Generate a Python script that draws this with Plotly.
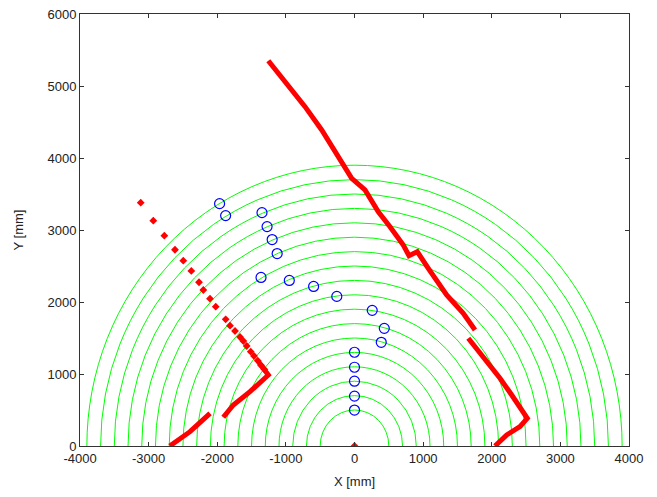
import plotly.graph_objects as go

# ---- data (mm) ----
arc_radii = [500, 700, 900, 1100, 1300, 1500, 1700, 1900, 2100, 2300,
             2500, 2700, 2900, 3100, 3300, 3500, 3700, 3900]

blue_x = [-1966, -1878, -1348, -1274, -1200, -1127, -1362, -950, -596, -258,
          258, 434, 390, 0, 0, 0, 0, 0]
blue_y = [3366, 3200, 3241, 3047, 2867, 2673, 2341, 2299, 2216, 2078,
          1884, 1634, 1440, 1302, 1094, 900, 693, 499]

sparse_x = [-3115, -2932, -2771, -2616, -2495, -2378, -2266, -2203, -2106, -2022,
            -1877, -1814, -1741, -1668, -1620, -1571, -1512, -1464, -1410, -1362,
            -1314, 0]
sparse_y = [3379, 3129, 2921, 2726, 2574, 2431, 2274, 2167, 2046, 1935,
            1760, 1671, 1597, 1514, 1458, 1389, 1310, 1250, 1185, 1121,
            1065, 0]

left_x = [-1410, -1362, -1314, -1256, -1523, -1766, -1912, None, -2105, -2397, -2692]
left_y = [1185, 1121, 1065, 986, 754, 569, 399, None, 454, 199, 0]

right_x = [-1256, -721, -478, -41, 153, 347, 517, 711, 794, 915, 1075, 1343, 1585, 1756,
           None, 1658, 1877, 2120, 2291, 2518, 2411, 2218, 2047]
right_y = [5351, 4713, 4389, 3718, 3556, 3254, 3046, 2792, 2643, 2699, 2468, 2097, 1843, 1611,
           None, 1496, 1240, 940, 708, 385, 268, 153, 0]

x_ticks = [-4000, -3000, -2000, -1000, 0, 1000, 2000, 3000, 4000]
y_ticks = [0, 1000, 2000, 3000, 4000, 5000, 6000]

FONT = "Liberation Sans, Arial"

fig = go.Figure()

shapes = []
for r in arc_radii:
    shapes.append(dict(type="circle", xref="x", yref="y", x0=-r, x1=r, y0=-r, y1=r,
                       line=dict(color="#00ff00", width=1), layer="below"))

fig.add_trace(go.Scatter(x=left_x, y=left_y, mode="lines",
                         line=dict(color="#ff0000", width=5), hoverinfo="skip"))
fig.add_trace(go.Scatter(x=right_x, y=right_y, mode="lines",
                         line=dict(color="#ff0000", width=5), hoverinfo="skip"))
fig.add_trace(go.Scatter(x=sparse_x, y=sparse_y, mode="markers",
                         marker=dict(symbol="diamond", size=6, color="#ff0000")))
fig.add_trace(go.Scatter(x=blue_x, y=blue_y, mode="markers",
                         marker=dict(symbol="circle-open", size=10,
                                     color="#0000ff", line=dict(width=1.2, color="#0000ff"))))

axis_common = dict(showgrid=False, zeroline=False, ticks="inside", ticklen=4,
                   tickcolor="#333333", showline=True, linecolor="#333333", linewidth=1,
                   mirror="ticks", automargin=False,
                   tickfont=dict(family=FONT, size=13, color="#222222"))

fig.update_layout(
    width=657, height=497,
    margin=dict(l=80, r=28, t=14, b=51),
    paper_bgcolor="white", plot_bgcolor="white",
    showlegend=False,
    shapes=shapes,
    xaxis=dict(range=[-4000, 4000], tickvals=x_ticks, ticktext=[str(v) for v in x_ticks],
               title=dict(text="X [mm]", standoff=12,
                          font=dict(family=FONT, size=13, color="#222222")),
               **axis_common),
    yaxis=dict(range=[0, 6000], tickvals=y_ticks, ticktext=[str(v) for v in y_ticks],
               title=dict(text="Y [mm]", standoff=20,
                          font=dict(family=FONT, size=13, color="#222222")),
               **axis_common),
)

fig.write_html("out.html", config={"displayModeBar": False},
               post_script="document.body.style.margin='0';")
